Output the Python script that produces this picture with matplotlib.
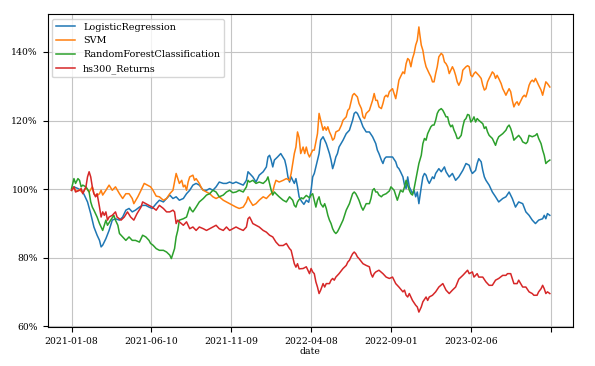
import matplotlib
matplotlib.use("Agg")
import matplotlib.pyplot as plt
from matplotlib.ticker import PercentFormatter

plt.rcParams['font.family'] = 'DejaVu Serif'
plt.rcParams['font.size'] = 6.7

# trading-day index -> cumulative return (%)
lr = [(0, 99.7), (3, 100.7), (8, 100.2), (12, 99.7), (14, 99.2), (16, 98.3), (20, 96.3), (24, 92.9),
      (28, 89.0), (32, 86.6), (35, 85.1), (37, 83.2), (39, 83.7), (43, 85.6), (47, 88.0), (51, 91.0),
      (55, 91.4), (60, 91.0), (64, 91.9), (68, 93.9), (72, 94.4), (76, 93.4), (80, 93.9), (85, 94.8),
      (89, 95.3), (93, 95.3), (97, 94.8), (101, 94.4), (106, 95.8), (110, 96.8), (115, 96.3), (119, 97.3),
      (123, 98.3), (127, 97.3), (131, 97.8), (135, 96.8), (140, 97.3), (144, 98.7), (148, 99.7), (152, 101.2),
      (156, 101.7), (160, 101.2), (165, 99.7), (169, 99.7), (173, 100.2), (177, 99.7), (181, 100.7), (185, 102.1),
      (190, 101.7), (194, 101.7), (198, 102.1), (202, 101.7), (206, 102.1), (210, 101.7), (215, 101.2), (219, 102.6),
      (221, 105.1), (223, 104.6), (227, 103.6), (231, 102.1), (235, 104.1), (240, 105.1), (244, 106.5), (246, 109.4),
      (248, 109.9), (250, 108.5), (252, 106.5), (254, 108.5), (258, 109.4), (262, 110.4), (267, 108.5), (269, 106.5),
      (271, 103.6), (273, 102.1), (275, 103.6), (277, 102.6), (279, 101.7), (281, 103.1), (283, 100.7), (285, 97.8),
      (288, 96.5), (291, 95.6), (294, 96.8), (297, 96.2), (300, 99.7), (302, 103.6), (304, 104.6), (306, 106.5),
      (308, 108.5), (310, 110.4), (312, 114.3), (315, 115.3), (317, 114.3), (319, 113.3), (321, 111.9), (323, 110.4),
      (325, 108.5), (327, 106.0), (329, 107.5), (331, 109.4), (333, 110.4), (335, 112.3), (340, 114.3), (344, 116.2),
      (348, 117.2), (352, 120.1), (354, 122.1), (356, 122.5), (358, 122.1), (360, 121.1), (362, 120.1), (365, 118.2),
      (369, 116.7), (373, 116.7), (377, 115.3), (381, 113.3), (383, 111.4), (385, 110.4), (388, 108.5), (390, 107.5),
      (392, 108.9), (394, 109.4), (398, 109.4), (402, 109.4), (406, 108.0), (408, 106.5), (410, 106.0), (412, 105.1),
      (415, 103.6), (417, 101.2), (419, 100.2), (421, 103.6), (423, 100.7), (425, 99.7), (427, 98.7), (429, 99.7),
      (431, 97.8), (433, 99.2), (435, 95.8), (438, 100.7), (440, 103.6), (442, 104.6), (444, 104.1), (446, 102.6),
      (448, 101.7), (450, 102.6), (452, 103.6), (454, 103.1), (456, 104.6), (460, 106.0), (463, 105.1), (467, 106.5),
      (469, 105.1), (473, 103.6), (477, 104.6), (481, 102.6), (485, 103.6), (490, 105.5), (494, 107.5), (498, 107.0),
      (500, 105.5), (502, 104.6), (506, 105.5), (508, 107.5), (510, 108.9), (513, 108.0), (515, 105.5), (517, 103.6),
      (519, 102.6), (523, 101.2), (527, 99.2), (531, 97.8), (535, 96.3), (540, 97.3), (544, 97.8), (548, 99.2),
      (552, 97.3), (556, 94.8), (560, 96.3), (565, 95.8), (569, 93.4), (573, 92.4), (577, 91.0), (581, 90.0),
      (585, 91.0), (590, 91.4), (592, 92.4), (594, 91.4), (596, 92.9), (599, 92.4)]

svm = [(0, 99.7), (3, 100.5), (6, 99.4), (10, 99.8), (14, 99.0), (18, 100.5), (22, 99.2), (26, 100.7),
       (28, 98.7), (31, 98.0), (35, 98.7), (37, 99.7), (39, 98.3), (43, 99.7), (47, 101.2), (51, 99.7),
       (55, 100.7), (60, 98.7), (64, 97.3), (68, 98.7), (72, 98.7), (76, 97.3), (78, 95.8), (83, 97.8),
       (87, 99.7), (91, 101.7), (95, 101.2), (99, 100.7), (102, 99.7), (106, 98.0), (110, 97.8), (115, 96.8),
       (119, 97.3), (123, 98.7), (127, 99.7), (129, 102.1), (131, 104.6), (133, 103.1), (135, 101.7), (138, 102.6),
       (140, 100.7), (142, 101.2), (144, 99.7), (146, 102.1), (148, 103.6), (152, 104.1), (154, 102.6), (156, 103.1),
       (160, 101.7), (163, 100.2), (165, 99.7), (169, 99.2), (173, 98.7), (177, 97.8), (181, 97.3), (185, 97.8),
       (190, 96.8), (194, 96.3), (198, 95.8), (202, 95.3), (206, 94.8), (210, 94.4), (215, 94.8), (219, 96.3),
       (221, 97.8), (223, 96.8), (227, 95.3), (231, 95.8), (235, 96.8), (240, 97.8), (244, 97.3), (248, 98.3),
       (252, 99.2), (254, 101.2), (256, 102.6), (260, 102.1), (265, 102.6), (269, 103.1), (273, 102.6), (275, 104.6),
       (277, 107.5), (279, 110.4), (281, 112.3), (283, 116.7), (285, 115.0), (287, 110.4), (290, 112.3), (292, 110.4),
       (294, 112.3), (296, 110.4), (298, 109.4), (300, 110.4), (302, 111.4), (304, 111.4), (306, 113.8), (308, 116.2),
       (310, 122.1), (312, 120.1), (315, 117.2), (317, 118.2), (319, 117.2), (321, 118.2), (323, 116.7), (325, 115.7),
       (327, 114.3), (329, 114.8), (331, 116.7), (335, 117.2), (338, 118.7), (340, 120.1), (344, 121.1), (346, 123.0),
       (348, 123.5), (350, 125.5), (352, 127.4), (354, 127.9), (356, 127.4), (358, 126.9), (360, 125.0), (363, 123.5),
       (365, 121.1), (367, 120.6), (369, 122.1), (373, 123.0), (375, 124.5), (377, 125.9), (379, 127.9), (381, 125.9),
       (383, 125.9), (385, 124.0), (388, 123.5), (390, 125.0), (392, 126.9), (394, 127.4), (396, 126.9), (398, 128.4),
       (400, 128.9), (402, 129.3), (404, 127.9), (406, 126.4), (408, 128.9), (410, 131.8), (412, 132.8), (415, 134.2),
       (417, 133.7), (419, 136.6), (421, 138.1), (423, 137.6), (425, 135.7), (427, 138.1), (429, 139.6), (431, 142.0),
       (433, 143.4), (435, 147.3), (436, 145.4), (438, 142.0), (440, 140.5), (442, 137.6), (444, 135.7), (446, 134.7),
       (448, 133.7), (450, 132.8), (452, 131.3), (454, 131.3), (456, 133.7), (458, 135.7), (460, 138.6), (463, 139.6),
       (465, 139.1), (467, 137.1), (469, 136.6), (471, 135.7), (473, 133.7), (475, 134.7), (477, 135.7), (479, 134.7),
       (481, 133.2), (483, 131.3), (485, 130.3), (488, 131.8), (490, 134.7), (492, 135.2), (494, 135.7), (496, 136.0),
       (498, 135.7), (500, 133.2), (502, 132.8), (504, 133.7), (506, 134.2), (508, 133.7), (510, 133.2), (513, 132.3),
       (515, 130.3), (517, 128.9), (519, 129.3), (521, 131.3), (523, 132.3), (525, 133.2), (527, 134.2), (529, 133.7),
       (531, 132.3), (533, 133.2), (535, 132.3), (538, 130.8), (540, 129.3), (542, 128.4), (544, 127.4), (546, 128.4),
       (548, 129.3), (550, 128.4), (552, 125.9), (554, 124.0), (556, 125.0), (558, 125.5), (560, 124.5), (563, 125.9),
       (565, 126.9), (567, 127.4), (569, 126.9), (571, 128.4), (573, 130.3), (575, 131.3), (577, 131.8), (579, 131.3),
       (581, 132.3), (583, 131.3), (585, 130.3), (588, 128.9), (590, 127.4), (592, 129.3), (594, 131.3), (596, 130.8),
       (599, 129.8)]

rf = [(0, 100.2), (3, 103.1), (5, 101.7), (8, 103.1), (10, 102.6), (12, 100.7), (14, 101.2), (18, 100.7),
      (22, 99.2), (24, 96.3), (26, 94.8), (28, 93.9), (30, 92.9), (32, 91.9), (35, 90.0), (37, 89.0),
      (39, 88.0), (41, 89.5), (43, 91.0), (45, 89.5), (49, 91.0), (53, 92.4), (55, 91.0), (58, 89.5),
      (60, 87.1), (64, 86.1), (68, 85.1), (72, 86.1), (76, 85.1), (80, 85.1), (85, 84.6), (89, 86.6),
      (93, 86.1), (97, 85.1), (99, 84.2), (102, 83.7), (106, 82.7), (110, 82.2), (115, 82.2), (119, 81.7),
      (123, 80.8), (125, 79.8), (127, 81.2), (129, 82.7), (131, 86.1), (133, 88.0), (135, 91.0), (140, 91.4),
      (144, 91.9), (146, 93.4), (148, 94.8), (150, 93.9), (152, 93.4), (156, 94.8), (160, 96.3), (165, 97.3),
      (169, 98.3), (173, 98.7), (177, 99.7), (181, 99.2), (185, 97.8), (190, 98.3), (194, 99.2), (198, 99.7),
      (202, 99.0), (206, 99.2), (210, 99.7), (215, 99.2), (219, 100.7), (221, 102.6), (223, 102.1), (227, 102.6),
      (231, 101.7), (235, 102.1), (240, 101.7), (244, 102.6), (246, 103.6), (248, 101.7), (250, 99.7), (252, 98.3),
      (254, 99.2), (256, 98.7), (260, 97.8), (265, 96.8), (269, 96.3), (273, 97.8), (277, 96.8), (279, 95.3),
      (281, 94.8), (283, 96.3), (285, 97.0), (288, 97.5), (290, 97.2), (294, 98.2), (298, 97.5), (300, 98.3),
      (302, 98.7), (304, 96.8), (306, 94.8), (308, 96.8), (310, 97.8), (312, 95.8), (315, 94.8), (317, 95.8),
      (319, 94.4), (321, 92.4), (323, 91.0), (325, 90.0), (327, 88.5), (329, 87.6), (331, 87.1), (333, 87.6),
      (335, 88.5), (338, 90.0), (340, 91.0), (342, 92.4), (344, 93.9), (348, 95.8), (352, 98.7), (354, 99.2),
      (356, 98.7), (358, 97.8), (360, 96.8), (363, 94.8), (365, 93.9), (367, 94.8), (369, 95.8), (373, 95.8),
      (375, 97.3), (377, 99.7), (379, 100.2), (381, 99.2), (383, 99.2), (385, 98.3), (388, 97.8), (390, 98.3),
      (394, 98.7), (398, 99.5), (400, 100.7), (402, 100.2), (404, 99.7), (406, 98.3), (408, 96.8), (410, 98.3),
      (412, 99.7), (415, 99.2), (417, 100.7), (419, 102.6), (421, 101.2), (423, 99.7), (425, 98.7), (427, 98.3),
      (429, 100.2), (431, 102.6), (433, 105.1), (435, 107.5), (438, 109.9), (440, 113.3), (442, 114.8), (444, 114.3),
      (446, 116.2), (448, 117.2), (450, 118.2), (452, 118.7), (454, 118.7), (456, 120.1), (458, 122.1), (460, 123.0),
      (463, 123.5), (465, 123.0), (467, 122.1), (469, 121.1), (471, 121.1), (473, 119.1), (475, 118.2), (477, 118.7),
      (479, 117.2), (481, 116.2), (483, 114.8), (485, 114.8), (488, 115.7), (490, 118.2), (492, 120.1), (494, 120.6),
      (496, 121.8), (498, 121.6), (500, 119.6), (502, 120.1), (504, 121.1), (506, 119.6), (508, 120.6), (510, 120.1),
      (515, 119.1), (517, 117.7), (519, 118.2), (521, 116.7), (523, 115.7), (527, 114.8), (529, 113.8), (531, 112.8),
      (533, 114.3), (535, 115.3), (540, 116.2), (544, 117.2), (546, 118.2), (548, 118.7), (550, 117.7), (552, 116.2),
      (554, 114.3), (556, 114.8), (560, 115.7), (563, 114.8), (565, 113.8), (569, 113.3), (571, 113.8), (573, 115.7),
      (577, 115.3), (581, 115.7), (583, 116.2), (585, 114.8), (588, 113.3), (590, 111.4), (592, 109.9), (594, 107.5),
      (596, 108.0), (599, 108.5)]

hs300 = [(0, 99.7), (3, 100.7), (5, 99.2), (10, 99.7), (12, 100.2), (14, 98.7), (16, 99.7), (18, 100.7),
         (20, 103.6), (22, 105.1), (24, 103.6), (26, 100.7), (28, 98.7), (30, 97.8), (32, 98.7), (35, 94.8),
         (37, 91.9), (39, 93.4), (41, 92.4), (43, 93.4), (45, 91.0), (47, 91.9), (51, 92.4), (55, 93.4),
         (57, 91.9), (62, 91.0), (66, 91.9), (70, 93.4), (74, 91.9), (78, 91.0), (82, 92.9), (87, 94.8),
         (89, 96.3), (93, 95.8), (97, 95.3), (101, 94.8), (106, 93.9), (110, 95.3), (115, 94.4), (119, 93.4),
         (123, 93.4), (127, 93.9), (129, 93.4), (131, 90.0), (133, 91.0), (135, 90.5), (140, 89.5), (144, 90.5),
         (148, 88.5), (152, 89.0), (156, 88.0), (160, 89.0), (165, 88.5), (169, 88.0), (173, 88.5), (177, 89.0),
         (181, 89.5), (185, 88.5), (190, 88.0), (194, 89.0), (198, 88.0), (202, 88.5), (206, 89.0), (210, 88.5),
         (215, 88.0), (219, 89.0), (221, 91.4), (223, 91.9), (225, 91.0), (227, 90.0), (231, 89.5), (235, 89.0),
         (240, 88.0), (244, 87.5), (248, 86.6), (252, 86.1), (256, 84.6), (260, 83.6), (265, 83.6), (269, 84.2),
         (273, 82.7), (275, 82.2), (277, 80.2), (279, 78.3), (281, 77.3), (283, 78.3), (285, 76.8), (290, 76.9),
         (294, 77.4), (298, 75.4), (300, 76.9), (302, 75.9), (304, 75.4), (306, 73.0), (308, 71.5), (310, 69.6),
         (312, 70.6), (315, 72.5), (317, 71.5), (319, 72.5), (323, 72.5), (325, 73.5), (327, 74.0), (329, 73.5),
         (331, 74.4), (335, 75.4), (340, 76.9), (344, 77.8), (346, 78.8), (348, 79.3), (350, 80.3), (352, 81.2),
         (354, 81.7), (356, 81.2), (358, 80.3), (360, 79.8), (365, 78.3), (369, 77.8), (373, 77.4), (375, 75.4),
         (377, 74.4), (379, 75.4), (381, 75.9), (385, 76.4), (390, 75.4), (394, 74.4), (398, 74.0), (402, 74.4),
         (406, 72.5), (410, 71.5), (415, 70.1), (417, 70.6), (419, 69.1), (421, 68.6), (423, 69.6), (427, 67.6),
         (431, 66.2), (433, 65.7), (435, 64.2), (438, 65.7), (440, 67.2), (444, 68.6), (446, 67.6), (448, 68.6),
         (452, 69.1), (456, 70.1), (460, 71.5), (465, 72.5), (469, 70.6), (473, 69.6), (477, 70.6), (481, 71.5),
         (485, 73.8), (490, 74.9), (494, 75.9), (496, 76.4), (498, 75.4), (502, 75.9), (504, 74.4), (508, 75.4),
         (510, 74.4), (515, 74.4), (519, 73.0), (523, 72.0), (527, 72.0), (531, 73.5), (535, 74.0), (540, 74.9),
         (544, 74.9), (546, 75.4), (550, 75.4), (552, 74.0), (554, 72.5), (558, 72.5), (560, 73.5), (565, 71.5),
         (569, 71.5), (573, 70.1), (577, 69.6), (579, 69.1), (583, 69.1), (585, 70.1), (588, 71.0), (590, 72.0),
         (592, 71.0), (594, 69.6), (596, 70.1), (599, 69.6)]

tick_pos = [0, 100, 200, 300, 400, 500, 600]
tick_labels = ['2021-01-08', '2021-06-10', '2021-11-09', '2022-04-08', '2022-09-01', '2023-02-06', '']

series = [('LogisticRegression', lr), ('SVM', svm),
          ('RandomForestClassification', rf), ('hs300_Returns', hs300)]

fig, ax = plt.subplots(figsize=(5.95, 3.66), dpi=100)
fig.subplots_adjust(left=0.080, right=0.963, top=0.962, bottom=0.107)

for name, pts in series:
    xs = [p[0] for p in pts]
    ys = [p[1] for p in pts]
    ax.plot(xs, ys, label=name, linewidth=1.1)

ax.set_xticks(tick_pos)
ax.set_xticklabels(tick_labels)
ax.set_xlim(-30, 628)
ax.set_ylim(59.9, 151.1)
ax.yaxis.set_major_formatter(PercentFormatter(100, decimals=0))
ax.set_xlabel('date', labelpad=1)
ax.grid(True, color='#c4c4c4')
ax.legend(loc='upper left', fontsize=6.9)

fig.savefig('out.png', dpi=100)
